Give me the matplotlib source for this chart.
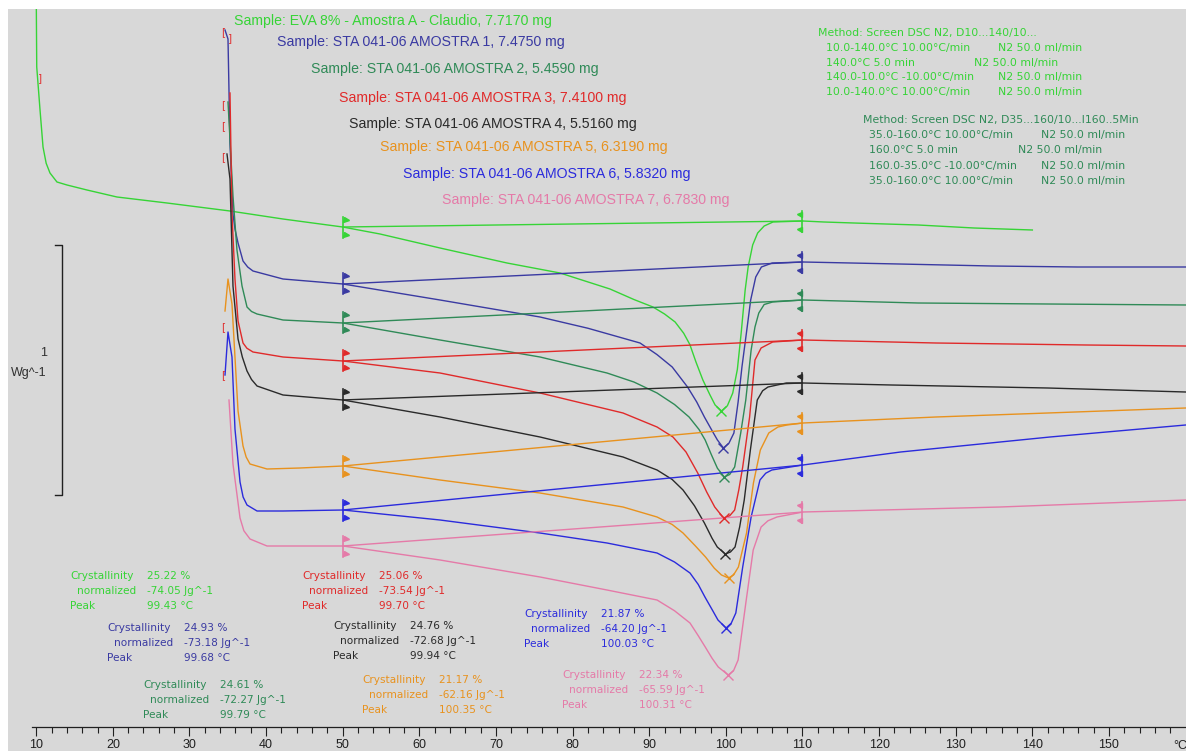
import numpy as np
import matplotlib
matplotlib.use("Agg")
import matplotlib.pyplot as plt
from matplotlib.ticker import MultipleLocator, FixedLocator

W, H, DPI = 1186, 751, 100

# ---- sample information -------------------------------------------------
samples = ["EVA 8% - Amostra A - Claudio",
           "STA 041-06 AMOSTRA 1", "STA 041-06 AMOSTRA 2", "STA 041-06 AMOSTRA 3",
           "STA 041-06 AMOSTRA 4", "STA 041-06 AMOSTRA 5", "STA 041-06 AMOSTRA 6",
           "STA 041-06 AMOSTRA 7"]
masses_mg = [7.7170, 7.4750, 5.4590, 7.4100, 5.5160, 6.3190, 5.8320, 6.7830]
crystallinity = [25.22, 24.93, 24.61, 25.06, 24.76, 21.17, 21.87, 22.34]
normalized = [-74.05, -73.18, -72.27, -73.54, -72.68, -62.16, -64.20, -65.59]
peak_T = [99.43, 99.68, 99.79, 99.70, 99.94, 100.35, 100.03, 100.31]

# integration limits (°C)
lim_lo, lim_hi = 50.0, 110.0

# ---- heat-flow curves (temperature °C, heat flow W/g, stacked) ----------
t_eva = [10.0, 10.07, 10.5, 10.89, 11.3, 11.8, 12.71, 14.02, 16.63, 20.54, 27.07, 35.29,
         42.2, 50.0, 54.87, 62.7, 71.44, 78.36, 84.88, 88.0, 90.49, 92.0, 93.38, 94.5,
         95.3, 96.1, 97.0, 97.9, 98.6, 99.43, 100.2, 100.9, 101.5, 102.0, 102.52, 102.91,
         103.5, 104.15, 105.0, 106.15, 110.06, 112.8, 116.7, 125.1, 132.4, 140.0]
q_eva = [2.95, 2.64, 2.468, 2.32, 2.255, 2.216, 2.18, 2.168, 2.148, 2.12, 2.096, 2.064,
         2.032, 2.0, 1.972, 1.916, 1.856, 1.816, 1.752, 1.71, 1.68, 1.652, 1.62, 1.575,
         1.53, 1.46, 1.388, 1.33, 1.288, 1.264, 1.285, 1.336, 1.43, 1.576, 1.748, 1.84,
         1.928, 1.976, 2.004, 2.02, 2.024, 2.02, 2.016, 2.008, 1.996, 1.988]

t_a1 = [34.64, 35.03, 35.29, 35.68, 35.95, 36.34, 36.99, 37.6, 38.29, 42.21, 50.04, 62.7,
        75.75, 82.0, 88.8, 91.0, 93.0, 95.0, 96.2, 97.2, 98.3, 98.9, 99.68, 100.4, 101.05,
        101.6, 102.1, 102.7, 103.24, 103.9, 104.64, 106.05, 110.06, 122.6, 134.7, 145.9,
        160.0]
q_a1 = [2.788, 2.752, 2.336, 2.052, 1.99, 1.936, 1.864, 1.84, 1.824, 1.792, 1.772, 1.708,
        1.64, 1.595, 1.536, 1.49, 1.44, 1.36, 1.3, 1.24, 1.18, 1.148, 1.116, 1.135, 1.176,
        1.3, 1.44, 1.58, 1.708, 1.8, 1.84, 1.856, 1.86, 1.852, 1.844, 1.84, 1.84]

t_a2 = [35.03, 35.68, 36.2, 36.86, 37.51, 38.1, 38.82, 42.21, 50.04, 62.7, 75.75, 84.49,
        88.0, 91.02, 93.3, 95.2, 96.5, 97.3, 98.1, 98.9, 99.79, 100.5, 101.15, 101.94,
        102.6, 103.3, 103.8, 104.3, 105.0, 106.1, 110.06, 125.1, 142.0, 160.0]
q_a2 = [2.5, 2.124, 1.908, 1.764, 1.68, 1.662, 1.652, 1.628, 1.616, 1.548, 1.48, 1.416,
        1.38, 1.336, 1.29, 1.24, 1.19, 1.148, 1.09, 1.035, 1.0, 1.01, 1.04, 1.176,
        1.308, 1.508, 1.6, 1.656, 1.69, 1.7, 1.708, 1.696, 1.692, 1.688]

t_a3 = [35.29, 35.55, 35.94, 36.34, 36.99, 37.5, 38.29, 42.21, 50.04, 62.7, 75.75, 86.58,
        91.02, 93.1, 94.8, 96.33, 97.5, 98.55, 99.7, 100.5, 101.15, 101.7, 102.2, 103.1,
        103.8, 104.6, 106.1, 110.06, 127.4, 147.0, 160.0]
q_a3 = [2.536, 2.052, 1.792, 1.624, 1.536, 1.515, 1.5, 1.48, 1.464, 1.416, 1.336, 1.256,
        1.2, 1.16, 1.1, 1.016, 0.94, 0.88, 0.836, 0.845, 0.868, 0.95, 1.04, 1.24,
        1.468, 1.516, 1.54, 1.548, 1.536, 1.528, 1.524]

t_a4 = [34.9, 35.29, 35.68, 36.34, 36.9, 37.51, 38.1, 38.82, 42.21, 50.04, 62.7, 75.75,
        86.58, 91.02, 93.0, 94.41, 95.9, 97.2, 98.2, 98.88, 99.94, 100.6, 101.2, 101.8,
        102.4, 103.2, 104.1, 104.8, 105.5, 107.9, 110.06, 121.6, 142.0, 160.0]
q_a4 = [2.292, 2.192, 1.764, 1.552, 1.48, 1.424, 1.39, 1.364, 1.328, 1.308, 1.24, 1.16,
        1.08, 1.028, 0.99, 0.948, 0.885, 0.816, 0.755, 0.72, 0.692, 0.7, 0.72, 0.8,
        0.908, 1.108, 1.308, 1.345, 1.36, 1.376, 1.376, 1.368, 1.356, 1.34]

t_a5 = [34.64, 35.03, 35.55, 35.94, 36.34, 36.99, 37.4, 37.9, 40.12, 44.43, 50.04, 62.7,
        75.75, 86.58, 91.02, 93.0, 94.41, 96.0, 97.35, 98.5, 99.43, 100.35, 101.0, 101.64,
        102.7, 103.6, 104.5, 105.6, 106.8, 107.98, 110.06, 127.4, 142.0, 160.0]
q_a5 = [1.664, 1.792, 1.692, 1.48, 1.264, 1.124, 1.08, 1.052, 1.032, 1.036, 1.044, 0.988,
        0.936, 0.88, 0.84, 0.81, 0.776, 0.725, 0.68, 0.635, 0.608, 0.596, 0.608, 0.64,
        0.776, 0.976, 1.108, 1.176, 1.2, 1.208, 1.216, 1.24, 1.256, 1.276]

t_a6 = [34.64, 35.03, 35.55, 35.94, 36.6, 37.0, 37.51, 38.82, 42.21, 50.04, 62.7, 75.75,
        84.49, 91.02, 93.3, 95.32, 96.4, 97.27, 98.2, 98.97, 100.03, 100.7, 101.3, 102.2,
        103.3, 104.45, 105.2, 106.0, 110.06, 122.8, 142.3, 160.0]
q_a6 = [1.408, 1.58, 1.48, 1.192, 0.98, 0.92, 0.888, 0.864, 0.864, 0.868, 0.828, 0.776,
        0.736, 0.696, 0.66, 0.616, 0.57, 0.52, 0.47, 0.428, 0.396, 0.415, 0.456, 0.64,
        0.84, 0.988, 1.015, 1.028, 1.048, 1.1, 1.16, 1.208]

t_a7 = [35.16, 35.68, 36.6, 37.1, 37.9, 40.12, 44.43, 50.04, 62.7, 75.75, 84.49, 91.02,
        93.3, 95.32, 96.4, 97.31, 98.2, 99.01, 100.31, 101.0, 101.6, 102.66, 103.57, 104.6,
        105.5, 106.67, 110.06, 135.8, 160.0]
q_a7 = [1.308, 1.052, 0.836, 0.785, 0.752, 0.724, 0.724, 0.724, 0.668, 0.6, 0.548, 0.508,
        0.465, 0.416, 0.365, 0.32, 0.275, 0.24, 0.208, 0.225, 0.268, 0.508, 0.708, 0.8,
        0.825, 0.84, 0.86, 0.88, 0.908]

curves = [(t_eva, q_eva), (t_a1, q_a1), (t_a2, q_a2), (t_a3, q_a3),
          (t_a4, q_a4), (t_a5, q_a5), (t_a6, q_a6), (t_a7, q_a7)]

colors = ["#36d436", "#3a3aa2", "#2f8a57", "#e02a2a",
          "#2a2a2a", "#e8921e", "#2b2bdc", "#e57aa8"]

# method (temperature program) descriptions
method_eva = ["Method: Screen DSC N2, D10...140/10...",
              ("10.0-140.0°C 10.00°C/min", "N2 50.0 ml/min"),
              ("140.0°C 5.0 min", "N2 50.0 ml/min"),
              ("140.0-10.0°C -10.00°C/min", "N2 50.0 ml/min"),
              ("10.0-140.0°C 10.00°C/min", "N2 50.0 ml/min")]
method_sta = ["Method: Screen DSC N2, D35...160/10...I160..5Min",
              ("35.0-160.0°C 10.00°C/min", "N2 50.0 ml/min"),
              ("160.0°C 5.0 min", "N2 50.0 ml/min"),
              ("160.0-35.0°C -10.00°C/min", "N2 50.0 ml/min"),
              ("35.0-160.0°C 10.00°C/min", "N2 50.0 ml/min")]

# ---- figure -------------------------------------------------------------
BG = "#d8d8d8"
fig = plt.figure(figsize=(W / DPI, H / DPI), dpi=DPI, facecolor="white")
ax = fig.add_axes([8 / W, 0, 1 - 8 / W, 1 - 9 / H])
ax.set_facecolor(BG)
ax.set_xlim(6.32, 160.05)
ax.set_ylim(-0.096, 2.872)


def fpos(x, y):
    """pixel position -> figure fraction"""
    return x / W, 1 - y / H


SANS = ["Liberation Sans", "DejaVu Sans"]
SMALL = ["DejaVu Sans"]

# curves, integration baselines, limit flags and peak crosses
for (t, q), c, pk in zip(curves, colors, peak_T):
    t = np.asarray(t)
    q = np.asarray(q)
    ax.plot(t, q, color=c, lw=1.0, solid_joinstyle="round", zorder=3)
    lims = np.array([lim_lo, lim_hi])
    qb = np.interp(lims, t, q)
    ax.plot(lims, qb, color=c, lw=1.0, zorder=3)
    for T, qq, m, d in ((lims[0], qb[0], ">", 0.45), (lims[1], qb[1], "<", -0.45)):
        ax.plot([T, T], [qq - 0.042, qq + 0.042], color=c, lw=1.2, zorder=4)
        ax.plot([T + d, T + d], [qq - 0.03, qq + 0.03], ls="none", marker=m,
                ms=3.6, color=c, mec=c, zorder=4)
    ax.plot([pk], [np.interp(pk, t, q)], marker="x", ms=7, mew=1.0, color=c, zorder=5)

# small red range brackets at the start of the curves
br_T = [34.38, 35.29, 34.38, 34.38, 34.38, 34.38, 34.38, 10.5]
br_q = [2.78, 2.756, 2.488, 2.404, 2.28, 1.6, 1.408, 2.596]
br_s = ["[", "]", "[", "[", "[", "[", "[", "]"]
for T, qq, s in zip(br_T, br_q, br_s):
    ax.text(T, qq, s, color="#e03030", fontsize=7.5, ha="center", va="center",
            family=SMALL, zorder=6)

# ---- x axis ruler -------------------------------------------------------
for side in ("left", "right", "top"):
    ax.spines[side].set_visible(False)
ax.spines["bottom"].set_position(("data", 0))
ax.spines["bottom"].set_bounds(9.5, 160.05)
ax.spines["bottom"].set_color("#202020")
ax.spines["bottom"].set_linewidth(0.9)
ax.set_yticks([])
major = np.arange(10, 151, 10)
ax.set_xticks(major)
ax.xaxis.set_minor_locator(FixedLocator([v for v in range(10, 161, 2) if v % 10]))
ax.tick_params(axis="x", which="major", direction="out", length=6.5, width=0.8,
               color="#202020", pad=2.5, labelsize=9, labelcolor="#202020")
ax.tick_params(axis="x", which="minor", direction="out", length=4.5, width=0.8,
               color="#202020")
for lbl in ax.get_xticklabels():
    lbl.set_fontfamily(SANS)
ax.annotate("°C", xy=(159.3, 0), xycoords="data", xytext=(0, -9.2),
            textcoords="offset points", ha="center", va="top", fontsize=9,
            color="#202020", family=SANS)

# ---- 1 W/g scale bar ----------------------------------------------------
bar_T, bar_q0, bar_len = 13.37, 0.928, 1.0
ax.plot([bar_T - 0.9, bar_T, bar_T, bar_T - 0.9],
        [bar_q0 + bar_len, bar_q0 + bar_len, bar_q0, bar_q0],
        color="#202020", lw=1.0, zorder=3)
fig.text(*fpos(47, 353), "1", ha="right", va="center", fontsize=9,
         color="#303030", family=SANS)
fig.text(*fpos(47, 373), "Wg^-1", ha="right", va="center", fontsize=9,
         color="#303030", family=SANS)

# ---- sample titles ------------------------------------------------------
title_pos = [(234, 21), (277, 42), (311, 69), (339, 98),
             (349, 124), (380, 147), (403, 174), (442, 200)]
for (x, y), name, m, c in zip(title_pos, samples, masses_mg, colors):
    fig.text(*fpos(x, y), f"Sample: {name}, {m:.4f} mg", color=c, fontsize=10.2,
             ha="left", va="center", family=SANS)


# ---- method blocks ------------------------------------------------------
def method_block(lines, x0, y0, x_step, x_gas, color, dy=15):
    fig.text(*fpos(x0, y0), lines[0], color=color, fontsize=7.8, ha="left",
             va="center", family=SMALL)
    for i, (seg, gas) in enumerate(lines[1:], start=1):
        y = y0 + i * dy
        fig.text(*fpos(x_step, y), seg, color=color, fontsize=7.8, ha="left",
                 va="center", family=SMALL)
        fig.text(*fpos(x_gas[i - 1], y), gas, color=color, fontsize=7.8, ha="left",
                 va="center", family=SMALL)


method_block(method_eva, 818, 33, 826, [998, 974, 998, 998], colors[0], dy=14.8)
method_block(method_sta, 863, 120, 869, [1041, 1018, 1041, 1041], colors[2], dy=15.2)

# ---- crystallinity results ----------------------------------------------
res_pos = [(70, 576), (107, 628), (143, 685), (302, 576),
           (333, 626), (362, 680), (524, 614), (562, 675)]
for (x, y), c, cr, nz, pk in zip(res_pos, colors, crystallinity, normalized, peak_T):
    rows = [("Crystallinity", 0, f"{cr:.2f} %"),
            ("normalized", 7, f"{nz:.2f} Jg^-1"),
            ("Peak", 0, f"{pk:.2f} °C")]
    for i, (lab, ind, val) in enumerate(rows):
        yy = y + i * 15
        fig.text(*fpos(x + ind, yy), lab, color=c, fontsize=7.6, ha="left",
                 va="center", family=SMALL)
        fig.text(*fpos(x + 77, yy), val, color=c, fontsize=7.6, ha="left",
                 va="center", family=SMALL)

fig.savefig("out.png", dpi=DPI, facecolor="white")
